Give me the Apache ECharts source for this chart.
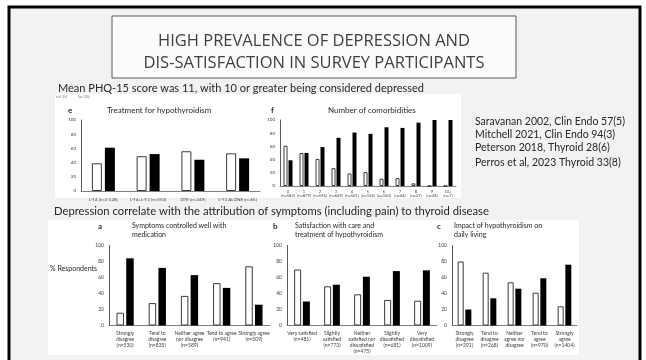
<!DOCTYPE html>
<html>
<head>
<meta charset="utf-8">
<script src="https://cdn.jsdelivr.net/npm/echarts@6/dist/echarts.min.js"></script>
<style>
  html, body { margin: 0; padding: 0; background: #ffffff; }
  #c { width: 646px; height: 360px; }
</style>
</head>
<body>
<div id="c"></div>
<script>
// Treatment for hypothyroidism (% of respondents: not depressed / depressed)
const treatCats = ['L-T4 (n=2 528)', 'L-T4+L-T3 (n=553)', 'DTE (n=249)', 'L-T3 ALONE (n=65)'];
const treatNotDep = [39, 49, 56, 53];
const treatDep = [61, 52, 44, 46];

// Number of comorbidities
const comorbCats = ['0', '1', '2', '3', '4', '5', '6', '7', '8', '9', '10+'];
const comorbN = ['(n=582)', '(n=879)', '(n=596)', '(n=609)', '(n=501)', '(n=156)', '(n=100)', '(n=64)', '(n=27)', '(n=26)', '(n=7)'];
const comorbNotDep = [61, 50, 41, 27, 19, 21, 11, 12, 4, 0, 0];
const comorbDep = [39, 50, 59, 73, 81, 79, 89, 88, 96, 100, 100];

// a: Symptoms controlled well with medication
const symptomCats = ['Strongly\ndisagree\n(n=530)', 'Tend to\ndisagree\n(n=835)', 'Neither agree\nnor disagree\n(n=589)', 'Tend to agree\n(n=941)', 'Strongly agree\n(n=509)'];
const symptomNotDep = [16, 28, 37, 53, 74];
const symptomDep = [84, 72, 63, 47, 26];

// b: Satisfaction with care and treatment of hypothyroidism
const satisfCats = ['Very satisfied\n(n=481)', 'Slightly\nsatisfied\n(n=773)', 'Neither\nsatisfied nor\ndissatisfied\n(n=475)', 'Slightly\ndissatisfied\n(n=681)', 'Very\ndissatisfied\n(n=1009)'];
const satisfNotDep = [70, 49, 39, 32, 31];
const satisfDep = [30, 51, 61, 68, 69];

// c: Impact of hypothyroidism on daily living
const impactCats = ['Strongly\ndisagree\n(n=291)', 'Tend to\ndisagree\n(n=268)', 'Neither\nagree nor\ndisagree', 'Tend to\nagree\n(n=970)', 'Strongly\nagree\n(n=1404)'];
const impactNotDep = [80, 66, 54, 41, 24];
const impactDep = [20, 34, 46, 59, 76];

const references = [
  'Saravanan 2002, Clin Endo 57(5)',
  'Mitchell 2021, Clin Endo 94(3)',
  'Peterson 2018, Thyroid 28(6)',
  'Perros et al, 2023 Thyroid 33(8)'
];

const FONT = 'Lato, "Open Sans", sans-serif';
const TITLE_FONT = '"Open Sans", Lato, sans-serif';
const grids = [], xAxes = [], yAxes = [], series = [];

function addPanel(rect, cats, notDep, dep, cfg) {
  const i = grids.length;
  grids.push({ left: rect[0], top: rect[1], width: rect[2], height: rect[3] });
  xAxes.push({
    type: 'category', gridIndex: i, data: cats,
    axisLine: { lineStyle: { color: '#808080', width: 1 } },
    axisTick: { show: false },
    axisLabel: {
      interval: 0, fontSize: cfg.xFont, lineHeight: cfg.xLine, margin: cfg.xMargin,
      color: '#404040', fontFamily: FONT, formatter: cfg.xFormatter
    }
  });
  yAxes.push({
    type: 'value', gridIndex: i, min: 0, max: 100, interval: 20,
    axisLine: { show: true, lineStyle: { color: '#595959', width: 1 } },
    axisTick: { show: false },
    splitLine: { show: false },
    axisLabel: { fontSize: cfg.yFont, margin: cfg.yMargin, color: '#404040', fontFamily: FONT }
  });
  series.push({
    type: 'bar', xAxisIndex: i, yAxisIndex: i, data: notDep,
    barWidth: cfg.bw, barGap: cfg.gap,
    itemStyle: { color: '#ffffff', borderColor: '#3a3a3a', borderWidth: 1 }
  });
  series.push({
    type: 'bar', xAxisIndex: i, yAxisIndex: i, data: dep,
    barWidth: cfg.bw, barGap: cfg.gap,
    itemStyle: { color: '#000000' }
  });
}

// top row: e and f
addPanel([81, 120, 179, 71], treatCats, treatNotDep, treatDep,
  { xFont: 4.5, xLine: 5, xMargin: 6, yFont: 4.5, yMargin: 5, bw: 10, gap: '30%' });
addPanel([280, 120, 176, 66], comorbCats, comorbNotDep, comorbDep,
  { xFont: 4, xLine: 4.5, xMargin: 3, yFont: 4.5, yMargin: 5, bw: 4, gap: '25%',
    xFormatter: (v, idx) => v + '\n' + comorbN[idx] });
// bottom row: a, b, c
addPanel([109, 245.5, 161, 80], symptomCats, symptomNotDep, symptomDep,
  { xFont: 5, xLine: 6, xMargin: 5, yFont: 5, yMargin: 5, bw: 7.5, gap: '30%' });
addPanel([287, 245.5, 150, 80], satisfCats, satisfNotDep, satisfDep,
  { xFont: 5, xLine: 6, xMargin: 5, yFont: 5, yMargin: 5, bw: 7, gap: '25%' });
addPanel([452, 245.5, 125, 80], impactCats, impactNotDep, impactDep,
  { xFont: 5, xLine: 6, xMargin: 5, yFont: 5, yMargin: 5, bw: 6, gap: '28%' });

function txt(x, y, text, size, opts) {
  opts = opts || {};
  return {
    type: 'text', x: x, y: y, z: 5,
    style: {
      text: text, fontSize: size, fontFamily: opts.family || FONT,
      fontWeight: opts.weight || 'normal',
      fill: opts.fill || '#262626',
      textAlign: opts.align || 'left', align: opts.align || 'left',
      textVerticalAlign: 'middle', verticalAlign: 'middle'
    }
  };
}

const graphics = [
  // slide surface and frame
  { type: 'rect', z: -20, shape: { x: 9, y: 7, width: 631, height: 400 }, style: { fill: '#f2f2f2' } },
  { type: 'rect', z: 10, shape: { x: 9, y: 7, width: 631, height: 400 }, style: { fill: 'none', stroke: '#000', lineWidth: 3 } },
  // title box
  { type: 'rect', z: -10, shape: { x: 112, y: 16, width: 404, height: 62 }, style: { fill: '#fbfbfb', stroke: '#595959', lineWidth: 1 } },
  txt(314, 41, 'HIGH PREVALENCE OF DEPRESSION AND', 16.5, { align: 'center', fill: '#404040', family: TITLE_FONT }),
  txt(314, 63, 'DIS-SATISFACTION IN SURVEY PARTICIPANTS', 16.5, { align: 'center', fill: '#404040', family: TITLE_FONT }),
  txt(58, 88, 'Mean PHQ-15 score was 11, with 10 or greater being considered depressed', 11, {}),
  // top figure panel
  { type: 'rect', z: -10, shape: { x: 55, y: 94, width: 406, height: 104 }, style: { fill: '#ffffff' } },
  txt(56, 97, 'r=5.25)', 3.5, { fill: '#777' }),
  txt(78, 97, '(n=135)', 3.5, { fill: '#777' }),
  txt(68, 110, 'e', 8, { weight: 'bold' }),
  txt(107, 110, 'Treatment for hypothyroidism', 8, {}),
  txt(271, 110, 'f', 8, { weight: 'bold' }),
  txt(328, 110, 'Number of comorbidities', 8, {}),
  // references
  txt(475, 122, references[0], 10.5, {}),
  txt(475, 135, references[1], 10.5, {}),
  txt(475, 148, references[2], 10.5, {}),
  txt(475, 163, references[3], 10.5, {}),
  // second heading
  txt(54, 211, 'Depression correlate with the attribution of symptoms (including pain) to thyroid disease', 11.25, {}),
  // bottom figure panel
  { type: 'rect', z: -10, shape: { x: 48, y: 220, width: 531, height: 135 }, style: { fill: '#ffffff' } },
  txt(98, 226, 'a', 8, { weight: 'bold' }),
  txt(132, 226, 'Symptoms controlled well with', 7, {}),
  txt(132, 235, 'medication', 7, {}),
  txt(273, 226, 'b', 8, { weight: 'bold' }),
  txt(295, 226, 'Satisfaction with care and', 7, {}),
  txt(295, 235, 'treatment of hypothyroidism', 7, {}),
  txt(437, 226, 'c', 8, { weight: 'bold' }),
  txt(454, 226, 'Impact of hypothyroidism on', 7, {}),
  txt(454, 235, 'daily living', 7, {}),
  txt(50, 269, '% Respondents', 7, {})
];

const chart = echarts.init(document.getElementById('c'), null, { renderer: 'canvas', width: 646, height: 360 });
chart.setOption({
  animation: false,
  backgroundColor: '#ffffff',
  textStyle: { fontFamily: FONT },
  graphic: { elements: graphics },
  grid: grids,
  xAxis: xAxes,
  yAxis: yAxes,
  series: series
});
</script>
</body>
</html>
